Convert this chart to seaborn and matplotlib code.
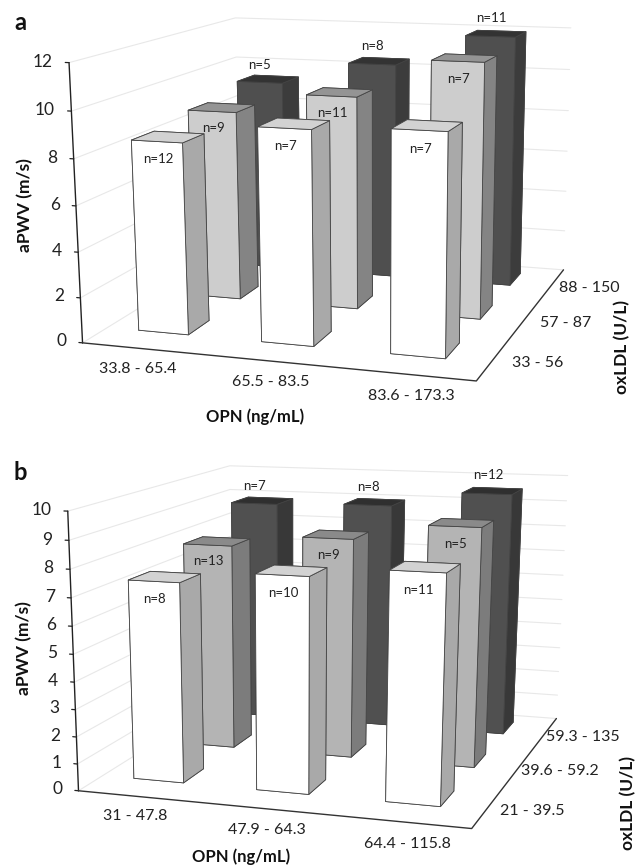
import matplotlib
matplotlib.use('Agg')
import matplotlib.pyplot as plt
import numpy as np
import seaborn as sns

sns.set_style('white')
plt.rcParams['font.family'] = ['Lato', 'DejaVu Sans']

W, H = 638, 867

# Values (rows run front to back, columns left to right)
a_opn = ['33.8 - 65.4', '65.5 - 83.5', '83.6 - 173.3']
a_oxldl = ['33 - 56', '57 - 87', '88 - 150']
a_values = [[8.45, 9.3, 9.5], [8.8, 9.75, 11.5], [9.3, 10.4, 11.9]]
a_n = [[12, 7, 7], [9, 11, 7], [5, 8, 11]]
a_ticks = [0, 2, 4, 6, 8, 10, 12]

b_opn = ['31 - 47.8', '47.9 - 64.3', '64.4 - 115.8']
b_oxldl = ['21 - 39.5', '39.6 - 59.2', '59.3 - 135']
b_values = [[7.35, 7.8, 8.15], [7.9, 8.35, 8.97], [8.85, 8.95, 9.55]]
b_n = [[8, 10, 11], [13, 9, 5], [7, 8, 12]]
b_ticks = [0, 1, 2, 3, 4, 5, 6, 7, 8, 9, 10]

# Where the corners of each chart box sit in the picture, used to fit the camera
a_box = [((0, 0, 0), (82, 335)), ((3, 0, 0), (478, 387)), ((3, 3, 0), (563, 263)),
         ((0, 3, 0), (240, 254)), ((0, 0, 1), (68, 65)), ((0, 3, 1), (237, 14)),
         ((3, 3, 1), (570, 30))]
b_box = [((0, 0, 0), (78, 783)), ((3, 0, 0), (473, 835)), ((3, 3, 0), (556, 711)),
         ((0, 3, 0), (232, 703)), ((0, 0, 1), (67, 513)), ((0, 3, 1), (231, 462)),
         ((3, 3, 1), (567, 478))]

# front, top and side greys per row
a_faces = [('#ffffff', '#d2d2d2', '#a9a9a9'), ('#cdcdcd', '#949494', '#848484'),
           ('#4f4f4f', '#333333', '#3c3c3c')]
b_faces = [('#ffffff', '#d2d2d2', '#a9a9a9'), ('#b4b4b4', '#8a8a8a', '#7c7c7c'),
           ('#505050', '#2f2f2f', '#383838')]


def fit_camera(box, zmax):
    A, b = [], []
    for (x, y, z), (u, v) in box:
        z = z * zmax
        A.append([x, y, z, 1, 0, 0, 0, 0, -u * x, -u * y, -u * z])
        A.append([0, 0, 0, 0, x, y, z, 1, -v * x, -v * y, -v * z])
        b += [u, v]
    p = np.linalg.lstsq(np.array(A, float), np.array(b, float), rcond=None)[0]
    return np.append(p, 1).reshape(3, 4)


def draw_panel(fig, center, box, values, n, faces, opn, oxldl, ticks):
    zmax = ticks[-1]
    P = fit_camera(box, zmax)
    unit = zmax / 12
    # square 3D axes, as wide as the figure, centred on the panel
    ax = fig.add_axes([0, (H - center - W / 2) / H, 1, W / H], projection='3d')
    ax.set_axis_off()
    ax.patch.set_visible(False)
    ax.set_xticks([])
    ax.set_yticks([])
    ax.set_zticks([])
    ax.computed_zorder = False
    ax.set_proj_type('ortho')
    depth = np.array([-0.2, 0.25, -0.5 / zmax, 0])

    def get_proj():
        to_axes = ax.transData.inverted().get_matrix()
        flip = np.array([[1, 0, 0], [0, -1, H], [0, 0, 1]])
        Q = to_axes @ flip @ P
        return np.array([Q[0], Q[1], depth, Q[2]])
    ax.get_proj = get_proj

    # walls
    for t in ticks:
        ax.plot([0, 0, 3], [0, 3, 3], [t, t, t], color='#e8e8e8', lw=0.8, zorder=1)
        ax.plot([-0.03, 0], [0, 0], [t, t], color='#222222', lw=0.9, zorder=1)
        ax.text(-0.13, 0, t, str(t), zdir=None, ha='right', va='center', fontsize=12.5,
                color='#222222')
    ax.plot([0, 0], [0, 0], [0, zmax], color='#222222', lw=1.0, zorder=2)
    ax.plot([0, 3, 3], [0, 0, 3], [0, 0, 0], color='#333333', lw=1.0, zorder=2)

    # bars, back to front
    order = 3
    for row in [2, 1, 0]:
        front, top, side = faces[row]
        for col in range(3):
            colors = [top, top, front, front, side, side]
            ax.bar3d(col + 0.26, row + 0.4, 0, 0.41, 0.38, values[row][col], color=colors,
                     edgecolor='#444444', linewidth=0.6, shade=False, zorder=order)
            # the back row has its label above the bar
            shift = 0.85 if row == 2 else -0.75
            ax.text(col + 0.47, row + 0.4, values[row][col] + shift * unit, 'n=%d' % n[row][col],
                    zdir=None, ha='center', va='center', fontsize=9.5, color='#222222',
                    zorder=40)
            order += 1

    for i in range(3):
        ax.text(i + 0.66, -0.42, 0, opn[i], zdir=None, ha='center', va='center',
                fontsize=11.5, color='#222222')
        ax.text(3.32, i + 0.5, 0, oxldl[i], zdir=None, ha='center', va='center',
                fontsize=11.5, color='#222222')
    return ax


fig = plt.figure(figsize=(W / 100, H / 100), dpi=100)
draw_panel(fig, 215, a_box, a_values, a_n, a_faces, a_opn, a_oxldl, a_ticks)
draw_panel(fig, 650, b_box, b_values, b_n, b_faces, b_opn, b_oxldl, b_ticks)


def label(x, y, s, **kw):
    fig.text(x / W, 1 - y / H, s, ha='center', va='center', color='#111111', **kw)


label(20, 22, 'a', fontsize=17, fontweight='bold')
label(20, 472, 'b', fontsize=17, fontweight='bold')
label(255, 417, 'OPN (ng/mL)', fontsize=12, fontweight='bold')
label(241, 857, 'OPN (ng/mL)', fontsize=12, fontweight='bold')
label(25, 205, 'aPWV (m/s)', fontsize=12.5, fontweight='bold', rotation=90)
label(24, 648, 'aPWV (m/s)', fontsize=12.5, fontweight='bold', rotation=90)
label(622, 347, 'oxLDL (U/L)', fontsize=12.5, fontweight='bold', rotation=90)
label(628, 803, 'oxLDL (U/L)', fontsize=12.5, fontweight='bold', rotation=90)

fig.savefig('out.png', dpi=100)
